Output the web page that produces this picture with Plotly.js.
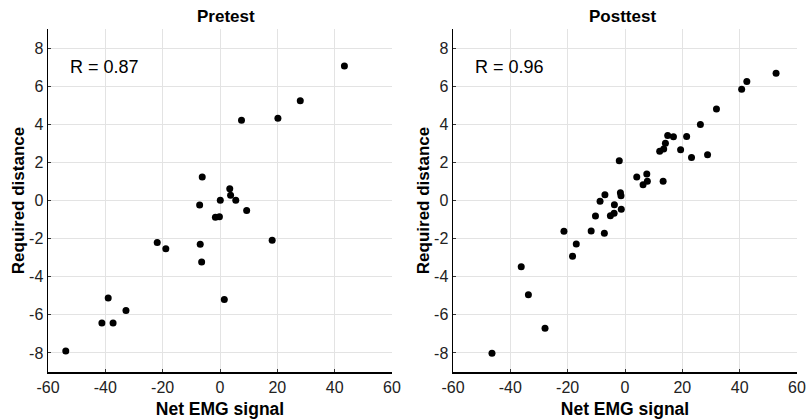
<!DOCTYPE html>
<html>
<head>
<meta charset="utf-8">
<script src="https://cdn.plot.ly/plotly-3.0.1.min.js"></script>
<style>html,body{margin:0;padding:0;background:#fff}#chart{width:809px;height:420px}</style>
</head>
<body>
<div id="chart"></div>
<script>
// Pretest: Net EMG signal vs Required distance
const preX = [43.4, 28.0, 20.2, 7.5, -6.2, 3.4, 3.7, 0.1, 5.5, -7.1, 9.3,
              -1.6, -0.2, -21.9, -18.9, -6.9, -6.4, 18.2, 1.5, -39.0, -32.8, -41.2, -37.3, -53.8];
const preY = [7.06, 5.24, 4.31, 4.21, 1.23, 0.62, 0.27, 0.01, 0.01, -0.24, -0.53,
              -0.88, -0.85, -2.2, -2.53, -2.3, -3.23, -2.09, -5.2, -5.12, -5.77, -6.43, -6.43, -7.9];
// Posttest
const postX = [52.7, 42.5, 40.7, 31.9, 26.3, 28.8, 23.2, 21.5, 19.4, 14.9, 16.9, 14.1, 13.5, 12.1,
               13.3, 7.6, 7.8, 6.3, 4.1, -2.0, -1.6, -1.4, -7.0, -8.7, -3.7, -1.3, -10.3, -5.1, -3.8,
               -21.3, -11.8, -7.2, -17.0, -18.3, -36.2, -33.7, -27.9, -46.4];
const postY = [6.68, 6.24, 5.84, 4.8, 3.99, 2.4, 2.26, 3.36, 2.66, 3.41, 3.34, 3.0, 2.7, 2.58,
               1.01, 1.39, 1.01, 0.83, 1.23, 2.08, 0.41, 0.25, 0.3, -0.04, -0.22, -0.46, -0.81, -0.8, -0.67,
               -1.62, -1.6, -1.72, -2.28, -2.92, -3.48, -4.95, -6.71, -8.02];
const panelTitles = ["Pretest", "Posttest"];
const rLabels = ["R = 0.87", "R = 0.96"];
const xTickVals = [-60, -40, -20, 0, 20, 40, 60];
const xTickText = ["-60", "-40", "-20", "0", "20", "40", "60"];
const yTickVals = [-8, -6, -4, -2, 0, 2, 4, 6, 8];
const yTickText = ["-8", "-6", "-4", "-2", "0", "2", "4", "6", "8"];
const xTitle = "Net EMG signal";
const yTitle = "Required distance";

const FONT = "Liberation Sans, Arial, sans-serif";
const marker = {color: "#000", size: 7};
const traces = [
  {x: preX, y: preY, mode: "markers", type: "scatter", marker: marker, xaxis: "x", yaxis: "y", hoverinfo: "x+y"},
  {x: postX, y: postY, mode: "markers", type: "scatter", marker: marker, xaxis: "x2", yaxis: "y2", hoverinfo: "x+y"}
];
function xa(domain, anchor) {
  return {domain: domain, anchor: anchor, range: [-60, 60], tickmode: "array", tickvals: xTickVals, ticktext: xTickText,
    showgrid: true, gridcolor: "#e3e3e3", gridwidth: 1, zeroline: false, showline: true, linecolor: "#000", linewidth: 1.5,
    ticks: "inside", ticklen: 3, tickcolor: "#333", tickfont: {family: FONT, size: 16, color: "#222"},
    title: {text: "<b>" + xTitle + "</b>", font: {family: FONT, size: 17.5, color: "#000"}, standoff: 8},
    automargin: false, fixedrange: true};
}
function ya(domain, anchor) {
  return {domain: domain, anchor: anchor, range: [-9, 9], tickmode: "array", tickvals: yTickVals, ticktext: yTickText,
    showgrid: true, gridcolor: "#e3e3e3", gridwidth: 1, zeroline: false, showline: true, linecolor: "#000", linewidth: 1.5,
    ticks: "inside", ticklen: 3, tickcolor: "#333", tickfont: {family: FONT, size: 16, color: "#222"},
    title: {text: "<b>" + yTitle + "</b>", font: {family: FONT, size: 17, color: "#000"}, standoff: 0},
    automargin: false, fixedrange: true};
}
const yDom = [48/420, 391/420];
const layout = {
  width: 809, height: 420, margin: {l: 0, r: 0, t: 0, b: 0},
  paper_bgcolor: "#fff", plot_bgcolor: "#fff", showlegend: false,
  font: {family: FONT},
  xaxis: xa([48/809, 392/809], "y"),
  yaxis: ya(yDom, "x"),
  xaxis2: xa([453/809, 797/809], "y2"),
  yaxis2: ya(yDom, "x2"),
  annotations: [
    {text: "<b>" + panelTitles[0] + "</b>", xref: "x", yref: "paper", x: 2, y: 403/420, yanchor: "middle", showarrow: false, font: {family: FONT, size: 17, color: "#000"}},
    {text: "<b>" + panelTitles[1] + "</b>", xref: "x2", yref: "paper", x: -1, y: 403/420, yanchor: "middle", showarrow: false, font: {family: FONT, size: 17, color: "#000"}},
    {text: rLabels[0], xref: "x", yref: "y", x: -53, y: 7.0, xanchor: "left", yanchor: "middle", showarrow: false, font: {family: FONT, size: 18, color: "#000"}},
    {text: rLabels[1], xref: "x2", yref: "y2", x: -53, y: 7.0, xanchor: "left", yanchor: "middle", showarrow: false, font: {family: FONT, size: 18, color: "#000"}}
  ]
};
Plotly.newPlot("chart", traces, layout, {displayModeBar: false, staticPlot: true});
</script>
</body>
</html>
